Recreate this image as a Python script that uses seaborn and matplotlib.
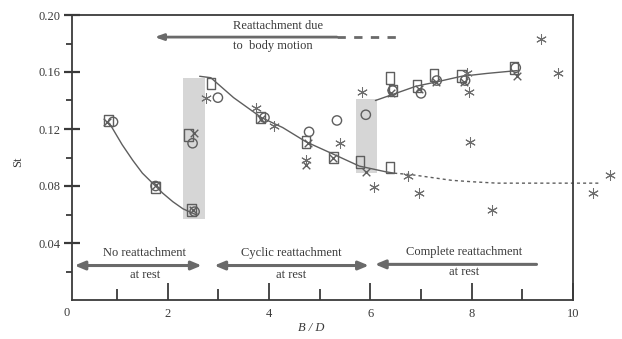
import matplotlib
matplotlib.use("Agg")
import matplotlib.pyplot as plt
import matplotlib.transforms as mtransforms
from matplotlib.patches import Rectangle
import seaborn as sns
import pandas as pd

# ---------------- data ----------------
sq_x = [0.83, 1.76, 2.47, 2.41, 2.85, 3.83, 4.73, 5.27, 5.80, 6.39, 6.39, 6.45, 6.92, 7.26, 7.80, 8.83]
sq_y = [0.126, 0.079, 0.063, 0.116, 0.152, 0.128, 0.111, 0.100, 0.097, 0.093, 0.156, 0.147, 0.150, 0.158, 0.157, 0.163]

circ_x = [0.92, 1.76, 2.53, 2.49, 2.99, 3.91, 4.79, 5.34, 5.91, 6.44, 7.00, 7.31, 7.87, 8.87]
circ_y = [0.125, 0.080, 0.062, 0.110, 0.142, 0.128, 0.118, 0.126, 0.130, 0.147, 0.145, 0.154, 0.154, 0.163]

cross_x = [0.80, 1.76, 2.49, 2.51, 3.85, 4.76, 4.73, 5.27, 5.91, 6.40, 6.96, 7.29, 7.85, 8.89]
cross_y = [0.125, 0.081, 0.063, 0.117, 0.127, 0.110, 0.095, 0.100, 0.090, 0.145, 0.148, 0.153, 0.153, 0.157]

ast_x = [2.75, 3.75, 4.10, 4.73, 5.40, 5.84, 6.07, 6.75, 6.96, 7.90, 7.94, 7.96, 8.40, 9.36, 9.70, 10.40, 10.74]
ast_y = [0.142, 0.135, 0.122, 0.098, 0.110, 0.146, 0.079, 0.087, 0.075, 0.159, 0.146, 0.111, 0.063, 0.183, 0.159, 0.075, 0.088]

# curves
c1_x = [0.85, 1.10, 1.31, 1.50, 1.70, 1.90, 2.10, 2.30, 2.55]
c1_y = [0.124, 0.109, 0.098, 0.089, 0.082, 0.075, 0.069, 0.064, 0.060]
c2_x = [2.63, 2.85, 3.30, 3.85, 4.27, 4.73, 5.29, 5.78, 5.91, 6.30, 6.47]
c2_y = [0.157, 0.156, 0.142, 0.128, 0.121, 0.111, 0.102, 0.094, 0.093, 0.090, 0.089]
c2d_x = [6.47, 6.80, 7.20, 7.60, 8.00, 8.50, 9.20, 10.56]
c2d_y = [0.089, 0.088, 0.086, 0.084, 0.083, 0.082, 0.082, 0.082]
c3_x = [6.10, 6.50, 6.90, 7.30, 7.80, 8.30, 8.90]
c3_y = [0.140, 0.145, 0.150, 0.153, 0.157, 0.159, 0.161]

# shaded bands (x0, x1, y0, y1)
band_x0 = [2.31, 5.72]
band_x1 = [2.74, 6.13]
band_y0 = [0.057, 0.089]
band_y1 = [0.156, 0.141]

x_ticks = [2, 4, 6, 8, 10]
y_ticks = [0.04, 0.08, 0.12, 0.16, 0.20]

# ---------------- style ----------------
sns.set_style("ticks")
plt.rcParams["font.family"] = ["Liberation Serif", "DejaVu Serif"]

INK = "#3a3a3a"
MARK = "#5e5e5e"
ARROW = "#6a6a6a"

fig = plt.figure(figsize=(6.22, 3.39), dpi=100)
ax = fig.add_axes([72 / 622, 39 / 339, (573 - 72) / 622, (300 - 15) / 339])

ax.set_xlim(0.11, 9.98)
ax.set_ylim(0.0, 0.20)

for x0, x1, y0, y1 in zip(band_x0, band_x1, band_y0, band_y1):
    ax.add_patch(Rectangle((x0, y0), x1 - x0, y1 - y0, facecolor="#d6d6d6",
                           edgecolor="none", zorder=0))

# curves
sns.lineplot(x=c1_x, y=c1_y, ax=ax, color=MARK, lw=1.0, sort=False, zorder=2)
sns.lineplot(x=c2_x, y=c2_y, ax=ax, color=MARK, lw=1.0, sort=False, zorder=2)
sns.lineplot(x=c3_x, y=c3_y, ax=ax, color=MARK, lw=1.0, sort=False, zorder=2)
sns.lineplot(x=c2d_x, y=c2d_y, ax=ax, color=MARK, lw=1.0, sort=False,
             linestyle=(0, (2.2, 2.2)), clip_on=False, zorder=2)

rect_marker = [(-0.72, -1), (0.72, -1), (0.72, 1), (-0.72, 1), (-0.72, -1)]
sns.scatterplot(x=sq_x, y=sq_y, ax=ax, marker=rect_marker, s=70,
                facecolor="none", edgecolor=MARK, linewidth=1.0, zorder=3)
sns.scatterplot(x=circ_x, y=circ_y, ax=ax, marker="o", s=45,
                facecolor="none", edgecolor=MARK, linewidth=1.0, zorder=3)
sns.scatterplot(x=cross_x, y=cross_y, ax=ax, marker="x", s=30,
                color=MARK, linewidth=1.0, zorder=3)
sns.scatterplot(x=ast_x, y=ast_y, ax=ax, marker=(6, 2, 0), s=50,
                color="#6e6e6e", linewidth=0.75, zorder=3, clip_on=False)

# axes decoration
for sp in ax.spines.values():
    sp.set_visible(True)
    sp.set_color(INK)
    sp.set_linewidth(1.3)

ax.set_xticks(x_ticks)
ax.set_xticks([1, 3, 5, 7, 9], minor=True)
ax.set_yticks(y_ticks)
ax.set_yticks([0.02, 0.06, 0.10, 0.14, 0.18], minor=True)
ax.set_yticklabels([f"{v:.2f}" for v in y_ticks])
ax.tick_params(axis="x", which="major", direction="in", length=12, width=1.3,
               color=INK, labelsize=9, labelcolor=INK, pad=6)
ax.tick_params(axis="x", which="minor", direction="in", length=8, width=1.3, color=INK)
ax.tick_params(axis="y", which="major", direction="inout", length=11, width=1.6,
               color=INK, labelsize=9, labelcolor=INK, pad=3)
ax.tick_params(axis="y", which="minor", direction="out", length=4.5, width=1.3, color=INK)
ax.set_xlabel("")
ax.set_ylabel("")

trans = mtransforms.blended_transform_factory(ax.transData, ax.transAxes)
ax.text(0.0, -0.026, "0", transform=trans, ha="center", va="top", fontsize=9, color=INK)

fig.text(18 / 622, 1 - 162 / 339, "St", rotation=90, ha="center", va="center",
         fontsize=9, color=INK)
fig.text(311 / 622, 1 - 328 / 339, "B / D", style="italic", ha="center", va="center",
         fontsize=9, color=INK)

# top arrow
ax.annotate("", xy=(1.74, 0.1845), xytext=(5.34, 0.1845),
            arrowprops=dict(arrowstyle="-|>,head_length=0.5,head_width=0.18",
                            color=ARROW, lw=2.0, shrinkA=0, shrinkB=0))
ax.plot([5.34, 6.57], [0.1845, 0.1845], color=ARROW, lw=2.0, linestyle=(0, (3, 3)))
ax.text(3.28, 0.192, "Reattachment due", ha="left", va="center", fontsize=9, color=INK)
ax.text(3.28, 0.178, "to  body motion", ha="left", va="center", fontsize=9, color=INK)

# bottom arrows
yb = 0.0242
ax.annotate("", xy=(0.16, yb), xytext=(2.67, yb),
            arrowprops=dict(arrowstyle="<|-|>,head_length=0.6,head_width=0.25",
                            color=ARROW, lw=2.2, shrinkA=0, shrinkB=0))
ax.annotate("", xy=(2.92, yb), xytext=(5.97, yb),
            arrowprops=dict(arrowstyle="<|-|>,head_length=0.6,head_width=0.25",
                            color=ARROW, lw=2.2, shrinkA=0, shrinkB=0))
ax.annotate("", xy=(6.09, 0.025), xytext=(9.28, 0.025),
            arrowprops=dict(arrowstyle="-|>,head_length=0.6,head_width=0.25",
                            color=ARROW, lw=2.2, shrinkA=0, shrinkB=0))

ax.text(1.55, 0.033, "No reattachment", ha="center", va="center", fontsize=9, color=INK)
ax.text(1.55, 0.0175, "at rest", ha="center", va="center", fontsize=9, color=INK)
ax.text(4.43, 0.033, "Cyclic reattachment", ha="center", va="center", fontsize=9, color=INK)
ax.text(4.44, 0.0175, "at rest", ha="center", va="center", fontsize=9, color=INK)
ax.text(7.86, 0.034, "Complete reattachment", ha="center", va="center", fontsize=9, color=INK)
ax.text(7.86, 0.0195, "at rest", ha="center", va="center", fontsize=9, color=INK)

fig.savefig("out.png", dpi=100)
